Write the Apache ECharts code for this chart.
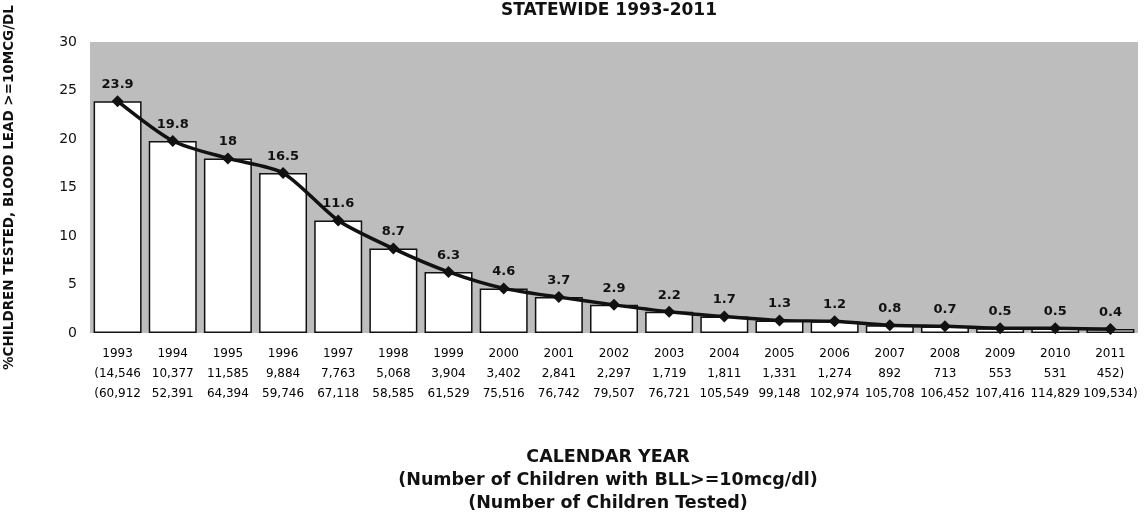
<!DOCTYPE html>
<html>
<head>
<meta charset="utf-8">
<script src="https://cdn.jsdelivr.net/npm/echarts@6/dist/echarts.min.js"></script>
<style>
  html, body { margin: 0; padding: 0; background: #fff; }
  #chart { width: 1144px; height: 515px; }
</style>
</head>
<body>
<div id="chart"></div>
<script>
// Statewide childhood blood lead testing, 1993-2011
const years = ['1993','1994','1995','1996','1997','1998','1999','2000','2001','2002',
               '2003','2004','2005','2006','2007','2008','2009','2010','2011'];
// % of children tested with BLL >= 10 mcg/dL
const pctElevated = [23.9, 19.8, 18, 16.5, 11.6, 8.7, 6.3, 4.6, 3.7, 2.9,
                     2.2, 1.7, 1.3, 1.2, 0.8, 0.7, 0.5, 0.5, 0.4];
// Number of children with BLL >= 10 mcg/dL
const childrenElevated = [14546, 10377, 11585, 9884, 7763, 5068, 3904, 3402, 2841, 2297,
                          1719, 1811, 1331, 1274, 892, 713, 553, 531, 452];
// Number of children tested
const childrenTested = [60912, 52391, 64394, 59746, 67118, 58585, 61529, 75516, 76742, 79507,
                        76721, 105549, 99148, 102974, 105708, 106452, 107416, 114829, 109534];
const yTicks = { min: 0, max: 30, interval: 5 };

const fmt = n => n.toLocaleString('en-US');
const last = years.length - 1;
const wrap = (s, i) => (i === 0 ? '(' : '') + s + (i === last ? ')' : '');

const chart = echarts.init(document.getElementById('chart'));
const FONT = 'DejaVu Sans, Liberation Sans, sans-serif';

chart.setOption({
  backgroundColor: '#ffffff',
  animation: false,
  textStyle: { fontFamily: FONT, color: '#111' },
  title: [
    {
      text: 'STATEWIDE 1993-2011',
      left: 604, top: -3, textAlign: 'center',
      textStyle: { fontFamily: FONT, fontSize: 17, fontWeight: 'bold', color: '#111' }
    },
    {
      text: 'CALENDAR YEAR\n(Number of Children with BLL>=10mcg/dl)\n(Number of Children Tested)',
      left: 603, top: 441, textAlign: 'center',
      textStyle: { fontFamily: FONT, fontSize: 17.5, fontWeight: 'bold', color: '#111', lineHeight: 23 }
    }
  ],
  grid: {
    left: 90, right: 6, top: 42, bottom: 182,
    outerBoundsMode: 'none',
    containLabel: false,
    show: true, backgroundColor: '#bdbdbd', borderWidth: 0
  },
  xAxis: {
    type: 'category',
    data: years,
    axisLine: { show: false },
    axisTick: { show: false },
    axisLabel: {
      interval: 0,
      margin: 11,
      fontSize: 12,
      lineHeight: 20,
      color: '#000',
      fontFamily: FONT,
      formatter: (v, i) => v + '\n' + wrap(fmt(childrenElevated[i]), i) + '\n' + wrap(fmt(childrenTested[i]), i)
    }
  },
  yAxis: {
    type: 'value',
    min: yTicks.min, max: yTicks.max, interval: yTicks.interval,
    name: '%CHILDREN TESTED, BLOOD LEAD >=10MCG/DL',
    nameLocation: 'middle',
    nameGap: 74,
    nameTextStyle: { fontFamily: FONT, fontSize: 13.5, fontWeight: 'bold', color: '#111' },
    axisLine: { show: false },
    axisTick: { show: false },
    splitLine: { show: false },
    axisLabel: { fontSize: 14, color: '#111', margin: 13, fontFamily: FONT }
  },
  series: [
    {
      type: 'bar',
      data: pctElevated,
      barCategoryGap: '13%',
      itemStyle: { color: '#ffffff', borderColor: '#111', borderWidth: 1.5 },
      z: 2
    },
    {
      type: 'line',
      data: pctElevated,
      smooth: 0.25,
      symbol: 'diamond',
      symbolSize: 12,
      lineStyle: { color: '#111', width: 3.5 },
      itemStyle: { color: '#111' },
      label: {
        show: true, position: 'top', distance: 4,
        fontFamily: FONT, fontSize: 13, fontWeight: 'bold', color: '#111'
      },
      z: 3
    }
  ]
});
</script>
</body>
</html>
